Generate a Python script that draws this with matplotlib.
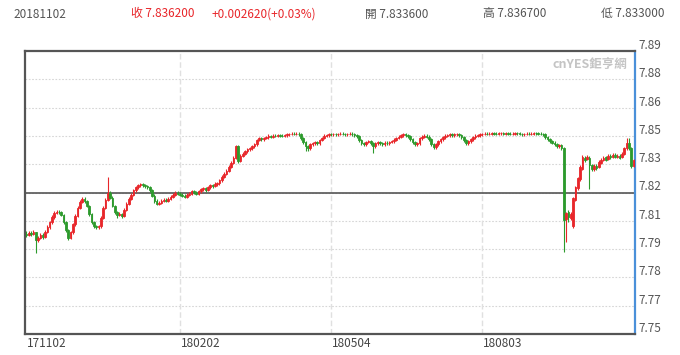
import numpy as np
import matplotlib
matplotlib.use('Agg')
import matplotlib.pyplot as plt
from matplotlib import transforms as mtransforms

plt.rcParams['font.family'] = ['Noto Sans CJK TC', 'DejaVu Sans']

# ---------------- data ----------------
CLOSE = [
    7.8000, 7.8008, 7.8005, 7.8010, 7.7975, 7.7985, 7.8000, 7.7990, 7.8012, 7.8035,
    7.8060, 7.8085, 7.8105, 7.8110, 7.8108, 7.8095, 7.8060, 7.8020, 7.7985, 7.8010,
    7.8050, 7.8090, 7.8130, 7.8160, 7.8175,
    7.8165, 7.8140, 7.8100, 7.8060, 7.8040, 7.8035, 7.8040, 7.8080, 7.8130, 7.8170,
    7.8205, 7.8180, 7.8140, 7.8110, 7.8095, 7.8100, 7.8090, 7.8120, 7.8150, 7.8175,
    7.8195, 7.8215,
    7.8230, 7.8240, 7.8245, 7.8240, 7.8235, 7.8230, 7.8215, 7.8190, 7.8165, 7.8150,
    7.8155, 7.8165, 7.8170, 7.8165, 7.8175, 7.8185, 7.8195, 7.8205, 7.8200, 7.8195,
    7.8190, 7.8185, 7.8195, 7.8200, 7.8210, 7.8205, 7.8200, 7.8210, 7.8220, 7.8225,
    7.8215, 7.8230, 7.8240, 7.8235, 7.8245, 7.8250, 7.8265, 7.8280, 7.8295, 7.8310,
    7.8330, 7.8350, 7.8375, 7.8430, 7.8360, 7.8385, 7.8395, 7.8405, 7.8415, 7.8420,
    7.8430, 7.8440, 7.8460, 7.8470, 7.8465,
    7.8470, 7.8475, 7.8480, 7.8478, 7.8482, 7.8480, 7.8485, 7.8482, 7.8480, 7.8485,
    7.8488, 7.8490, 7.8492, 7.8490, 7.8492, 7.8488, 7.8470, 7.8450, 7.8430, 7.8420,
    7.8440, 7.8445, 7.8450, 7.8445, 7.8460, 7.8470, 7.8480, 7.8485, 7.8490, 7.8488,
    7.8490, 7.8488, 7.8490, 7.8492, 7.8490, 7.8488, 7.8490, 7.8492, 7.8488, 7.8485,
    7.8480, 7.8460, 7.8445, 7.8440, 7.8450, 7.8455, 7.8445, 7.8430, 7.8445, 7.8450,
    7.8445, 7.8440, 7.8448, 7.8445, 7.8450, 7.8455, 7.8462, 7.8470, 7.8478, 7.8485,
    7.8488, 7.8485, 7.8480, 7.8465, 7.8450, 7.8440, 7.8445,
    7.8470, 7.8478, 7.8482, 7.8478, 7.8465, 7.8440, 7.8425, 7.8440, 7.8455, 7.8465,
    7.8475, 7.8480, 7.8485, 7.8488, 7.8485, 7.8488, 7.8490, 7.8485, 7.8475, 7.8460,
    7.8445, 7.8455, 7.8465, 7.8475, 7.8480, 7.8485, 7.8488, 7.8490,
    7.8492, 7.8490, 7.8492, 7.8495, 7.8492, 7.8490, 7.8493, 7.8495, 7.8492, 7.8494,
    7.8492, 7.8490, 7.8492, 7.8495, 7.8493, 7.8490, 7.8488, 7.8490, 7.8492, 7.8490,
    7.8492, 7.8495, 7.8493, 7.8492, 7.8490, 7.8488, 7.8475, 7.8465, 7.8455, 7.8448,
    7.8440, 7.8430, 7.8435, 7.8420,
    7.8070, 7.8105, 7.8085, 7.8100, 7.8180, 7.8230, 7.8275, 7.8330, 7.8380, 7.8365,
    7.8380, 7.8340, 7.8320, 7.8335, 7.8325, 7.8355, 7.8365, 7.8375, 7.8365, 7.8385,
    7.8378, 7.8390, 7.8380, 7.8385, 7.8375, 7.8395, 7.8420, 7.8445, 7.8420, 7.8335,
    7.8362,
]

OPEN = [
    7.8005,
    7.8000, 7.8008, 7.8005, 7.8010, 7.7975, 7.7985, 7.8000, 7.7990, 7.8012, 7.8035,
    7.8060, 7.8085, 7.8105, 7.8110, 7.8108, 7.8095, 7.8060, 7.8020, 7.7985, 7.8010,
    7.8050, 7.8090, 7.8130, 7.8160,
    7.8175, 7.8165, 7.8140, 7.8100, 7.8060, 7.8040, 7.8035, 7.8040, 7.8080, 7.8130,
    7.8170, 7.8205, 7.8180, 7.8140, 7.8110, 7.8095, 7.8100, 7.8090, 7.8120, 7.8150,
    7.8175, 7.8195,
    7.8215, 7.8230, 7.8240, 7.8245, 7.8240, 7.8235, 7.8230, 7.8215, 7.8190, 7.8165,
    7.8150, 7.8155, 7.8165, 7.8170, 7.8165, 7.8175, 7.8185, 7.8195, 7.8205, 7.8200,
    7.8195, 7.8190, 7.8185, 7.8195, 7.8200, 7.8210, 7.8205, 7.8200, 7.8210, 7.8220,
    7.8225, 7.8215, 7.8230, 7.8240, 7.8235, 7.8245, 7.8250, 7.8265, 7.8280, 7.8295,
    7.8310, 7.8330, 7.8350, 7.8375, 7.8430, 7.8360, 7.8385, 7.8395, 7.8405, 7.8415,
    7.8420, 7.8430, 7.8440, 7.8460, 7.8470,
    7.8465, 7.8470, 7.8475, 7.8480, 7.8478, 7.8482, 7.8480, 7.8485, 7.8482, 7.8480,
    7.8485, 7.8488, 7.8490, 7.8492, 7.8490, 7.8492, 7.8488, 7.8470, 7.8450, 7.8430,
    7.8420, 7.8440, 7.8445, 7.8450, 7.8445, 7.8460, 7.8470, 7.8480, 7.8485, 7.8490,
    7.8488, 7.8490, 7.8488, 7.8490, 7.8492, 7.8490, 7.8488, 7.8490, 7.8492, 7.8488,
    7.8485, 7.8480, 7.8460, 7.8445, 7.8440, 7.8450, 7.8455, 7.8445, 7.8430, 7.8445,
    7.8450, 7.8445, 7.8440, 7.8448, 7.8445, 7.8450, 7.8455, 7.8462, 7.8470, 7.8478,
    7.8485, 7.8488, 7.8485, 7.8480, 7.8465, 7.8450, 7.8440,
    7.8445, 7.8470, 7.8478, 7.8482, 7.8478, 7.8465, 7.8440, 7.8425, 7.8440, 7.8455,
    7.8465, 7.8475, 7.8480, 7.8485, 7.8488, 7.8485, 7.8488, 7.8490, 7.8485, 7.8475,
    7.8460, 7.8445, 7.8455, 7.8465, 7.8475, 7.8480, 7.8485, 7.8488,
    7.8490, 7.8492, 7.8490, 7.8492, 7.8495, 7.8492, 7.8490, 7.8493, 7.8495, 7.8492,
    7.8494, 7.8492, 7.8490, 7.8492, 7.8495, 7.8493, 7.8490, 7.8488, 7.8490, 7.8492,
    7.8490, 7.8492, 7.8495, 7.8493, 7.8492, 7.8490, 7.8488, 7.8475, 7.8465, 7.8455,
    7.8448, 7.8440, 7.8430, 7.8435,
    7.8420, 7.8075, 7.8110, 7.8080, 7.8040, 7.8170, 7.8225, 7.8270, 7.8320, 7.8375,
    7.8370, 7.8375, 7.8340, 7.8320, 7.8335, 7.8330, 7.8350, 7.8365, 7.8378, 7.8368,
    7.8385, 7.8378, 7.8390, 7.8380, 7.8385, 7.8378, 7.8395, 7.8420, 7.8445, 7.8420,
    7.8336,
]

HIGH = [
    7.8015, 7.8018, 7.8016, 7.8020, 7.8014, 7.7995, 7.8008, 7.8006, 7.8020, 7.8045,
    7.8068, 7.8095, 7.8115, 7.8120, 7.8118, 7.8114, 7.8100, 7.8066, 7.8026, 7.8018,
    7.8058, 7.8098, 7.8138, 7.8170, 7.8182,
    7.8182, 7.8170, 7.8146, 7.8106, 7.8066, 7.8048, 7.8048, 7.8088, 7.8138, 7.8178,
    7.8280, 7.8212, 7.8186, 7.8146, 7.8116, 7.8108, 7.8106, 7.8128, 7.8158, 7.8182,
    7.8202, 7.8222,
    7.8238, 7.8248, 7.8252, 7.8252, 7.8246, 7.8242, 7.8236, 7.8220, 7.8196, 7.8172,
    7.8162, 7.8172, 7.8178, 7.8176, 7.8182, 7.8192, 7.8202, 7.8212, 7.8212, 7.8206,
    7.8202, 7.8196, 7.8202, 7.8208, 7.8218, 7.8216, 7.8212, 7.8218, 7.8228, 7.8234,
    7.8232, 7.8238, 7.8248, 7.8246, 7.8254, 7.8258, 7.8272, 7.8288, 7.8304, 7.8318,
    7.8338, 7.8358, 7.8384, 7.8437, 7.8437, 7.8392, 7.8402, 7.8412, 7.8422, 7.8428,
    7.8438, 7.8448, 7.8468, 7.8478, 7.8476,
    7.8478, 7.8482, 7.8488, 7.8486, 7.8490, 7.8488, 7.8492, 7.8490, 7.8488, 7.8492,
    7.8494, 7.8496, 7.8498, 7.8498, 7.8498, 7.8498, 7.8494, 7.8476, 7.8456, 7.8436,
    7.8448, 7.8452, 7.8458, 7.8456, 7.8468, 7.8478, 7.8488, 7.8492, 7.8496, 7.8496,
    7.8497, 7.8496, 7.8497, 7.8498, 7.8498, 7.8496, 7.8497, 7.8498, 7.8498, 7.8494,
    7.8491, 7.8486, 7.8466, 7.8452, 7.8458, 7.8462, 7.8461, 7.8452, 7.8452, 7.8458,
    7.8456, 7.8452, 7.8456, 7.8455, 7.8458, 7.8462, 7.8470, 7.8478, 7.8486, 7.8492,
    7.8495, 7.8494, 7.8491, 7.8486, 7.8471, 7.8456, 7.8452,
    7.8478, 7.8485, 7.8490, 7.8489, 7.8484, 7.8470, 7.8446, 7.8448, 7.8462, 7.8472,
    7.8482, 7.8488, 7.8492, 7.8495, 7.8494, 7.8495, 7.8497, 7.8496, 7.8491, 7.8481,
    7.8466, 7.8462, 7.8472, 7.8482, 7.8488, 7.8492, 7.8495, 7.8497,
    7.8499, 7.8498, 7.8499, 7.8501, 7.8501, 7.8498, 7.8500, 7.8501, 7.8501, 7.8500,
    7.8500, 7.8498, 7.8499, 7.8501, 7.8501, 7.8499, 7.8497, 7.8497, 7.8499, 7.8498,
    7.8499, 7.8501, 7.8501, 7.8500, 7.8498, 7.8497, 7.8494, 7.8481, 7.8471, 7.8462,
    7.8455, 7.8446, 7.8442, 7.8441,
    7.8425, 7.8112, 7.8118, 7.8110, 7.8185, 7.8238, 7.8282, 7.8338, 7.8388, 7.8384,
    7.8388, 7.8382, 7.8346, 7.8342, 7.8342, 7.8362, 7.8372, 7.8382, 7.8385, 7.8392,
    7.8392, 7.8397, 7.8396, 7.8392, 7.8391, 7.8402, 7.8428, 7.8470, 7.8470, 7.8426,
    7.8367,
]

LOW = [
    7.7990, 7.7992, 7.7995, 7.7998, 7.7908, 7.7965, 7.7978, 7.7980, 7.7984, 7.8006,
    7.8028, 7.8052, 7.8078, 7.8098, 7.8100, 7.8088, 7.8052, 7.8010, 7.7975, 7.7980,
    7.8004, 7.8044, 7.8084, 7.8124, 7.8152,
    7.8155, 7.8132, 7.8092, 7.8052, 7.8030, 7.8026, 7.8028, 7.8034, 7.8074, 7.8124,
    7.8165, 7.8172, 7.8132, 7.8100, 7.8080, 7.8088, 7.8082, 7.8085, 7.8114, 7.8144,
    7.8168, 7.8188,
    7.8208, 7.8224, 7.8234, 7.8232, 7.8228, 7.8222, 7.8208, 7.8182, 7.8156, 7.8142,
    7.8144, 7.8148, 7.8158, 7.8158, 7.8160, 7.8168, 7.8178, 7.8188, 7.8192, 7.8188,
    7.8182, 7.8178, 7.8180, 7.8188, 7.8194, 7.8198, 7.8192, 7.8194, 7.8204, 7.8214,
    7.8208, 7.8210, 7.8224, 7.8228, 7.8230, 7.8238, 7.8244, 7.8258, 7.8274, 7.8288,
    7.8304, 7.8324, 7.8344, 7.8368, 7.8350, 7.8354, 7.8378, 7.8388, 7.8398, 7.8408,
    7.8414, 7.8424, 7.8434, 7.8454, 7.8458,
    7.8458, 7.8464, 7.8468, 7.8472, 7.8472, 7.8474, 7.8474, 7.8476, 7.8474, 7.8475,
    7.8478, 7.8482, 7.8484, 7.8484, 7.8484, 7.8480, 7.8462, 7.8440, 7.8405, 7.8408,
    7.8414, 7.8434, 7.8438, 7.8436, 7.8438, 7.8454, 7.8464, 7.8474, 7.8478, 7.8480,
    7.8481, 7.8480, 7.8481, 7.8484, 7.8483, 7.8480, 7.8481, 7.8484, 7.8480, 7.8477,
    7.8472, 7.8452, 7.8436, 7.8432, 7.8434, 7.8444, 7.8438, 7.8398, 7.8424, 7.8438,
    7.8438, 7.8432, 7.8434, 7.8438, 7.8438, 7.8444, 7.8448, 7.8456, 7.8464, 7.8472,
    7.8478, 7.8478, 7.8472, 7.8458, 7.8442, 7.8432, 7.8434,
    7.8438, 7.8463, 7.8471, 7.8471, 7.8458, 7.8432, 7.8415, 7.8418, 7.8434, 7.8448,
    7.8458, 7.8468, 7.8474, 7.8478, 7.8478, 7.8478, 7.8481, 7.8478, 7.8468, 7.8452,
    7.8436, 7.8438, 7.8448, 7.8458, 7.8468, 7.8474, 7.8478, 7.8481,
    7.8483, 7.8483, 7.8483, 7.8485, 7.8485, 7.8483, 7.8483, 7.8486, 7.8485, 7.8485,
    7.8485, 7.8483, 7.8483, 7.8485, 7.8486, 7.8483, 7.8480, 7.8481, 7.8483, 7.8483,
    7.8483, 7.8485, 7.8486, 7.8485, 7.8483, 7.8480, 7.8468, 7.8457, 7.8447, 7.8440,
    7.8432, 7.8420, 7.8424, 7.8412,
    7.7915, 7.7965, 7.8060, 7.8072, 7.8030, 7.8164, 7.8218, 7.8262, 7.8314, 7.8356,
    7.8362, 7.8220, 7.8310, 7.8312, 7.8316, 7.8324, 7.8344, 7.8358, 7.8358, 7.8362,
    7.8370, 7.8372, 7.8372, 7.8373, 7.8368, 7.8372, 7.8388, 7.8414, 7.8412, 7.8326,
    7.8330,
]

Y_RANGE = (7.7515, 7.8895)
REF_LEVEL = 7.8205
DATE_TICKS = [0, 66, 131, 196]
DATE_LABELS = ['171102', '180202', '180504', '180803']

HEADER = [
    ('20181102', 13, '#555555'),
    ('收 7.836200', 131, '#e8262a'),
    ('+0.002620(+0.03%)', 212, '#e8262a'),
    ('開 7.833600', 365, '#555555'),
    ('高 7.836700', 483, '#555555'),
    ('低 7.833000', 601, '#555555'),
]
WATERMARK = 'cnYES鉅亨網'

RED = '#e8262a'
GREEN = '#2c9a2c'
GRAY = '#777777'

# ---------------- figure ----------------
W, H = 680, 355
fig = plt.figure(figsize=(W / 100, H / 100), dpi=100)
ax = fig.add_axes([25 / W, 1 - 334 / H, 610 / W, 283 / H])

n = min(len(OPEN), len(CLOSE), len(HIGH), len(LOW))
x = np.arange(n)
o = np.array(OPEN[:n])
c = np.array(CLOSE[:n])
hi = np.maximum(np.array(HIGH[:n]), np.maximum(o, c))
lo = np.minimum(np.array(LOW[:n]), np.minimum(o, c))

cols = np.where(c > o, RED, np.where(c < o, GREEN, GRAY))

ax.vlines(x, lo, hi, colors=cols, lw=0.8, zorder=3)
ax.bar(x, c - o, bottom=o, width=0.7, color=cols, edgecolor=cols,
       linewidth=0.6, zorder=4)

ax.set_xlim(-0.6, n - 0.4)
ax.set_ylim(*Y_RANGE)

yt = np.linspace(Y_RANGE[0], Y_RANGE[1], 11)

# grid
for t in yt[1:-1]:
    ax.axhline(t, color='#d6d6d6', lw=0.8, ls=(0, (1.5, 1.5)), zorder=1)
for t in DATE_TICKS[1:]:
    ax.axvline(t, color='#e0e0e0', lw=1.0, ls=(0, (4, 2)), zorder=1)
ax.axhline(REF_LEVEL, color='#555555', lw=1.2, zorder=2)

ax.set_xticks([])
ax.set_yticks([])
for side in ['left', 'top', 'bottom']:
    ax.spines[side].set_color('#555555')
    ax.spines[side].set_linewidth(1.6)
ax.spines['right'].set_color('#4a90d9')
ax.spines['right'].set_linewidth(1.6)

# y labels (right side, just above each gridline)
ytr = mtransforms.blended_transform_factory(ax.transAxes, ax.transData)
for t in yt:
    ax.text(1.0, t, f'{t:.2f}', transform=ytr + mtransforms.ScaledTranslation(3 / 100, 2 / 100, fig.dpi_scale_trans),
            ha='left', va='baseline', fontsize=8.5, color='#555555', clip_on=False)

# x labels
xtr = mtransforms.blended_transform_factory(ax.transData, ax.transAxes)
for t, lab in zip(DATE_TICKS, DATE_LABELS):
    ax.text(t, 0, lab, transform=xtr + mtransforms.ScaledTranslation(1 / 100, -3 / 100, fig.dpi_scale_trans),
            ha='left', va='top', fontsize=8.5, color='#444444', clip_on=False)

# header
for txt, px, col in HEADER:
    fig.text(px / W, 1 - 14 / H, txt, ha='left', va='center', fontsize=8.5, color=col)

ax.text(0.988, 0.975, WATERMARK, transform=ax.transAxes, ha='right', va='top',
        fontsize=9, fontweight='bold', color='#c4c4c4', zorder=0)

fig.savefig('out.png', dpi=100)
